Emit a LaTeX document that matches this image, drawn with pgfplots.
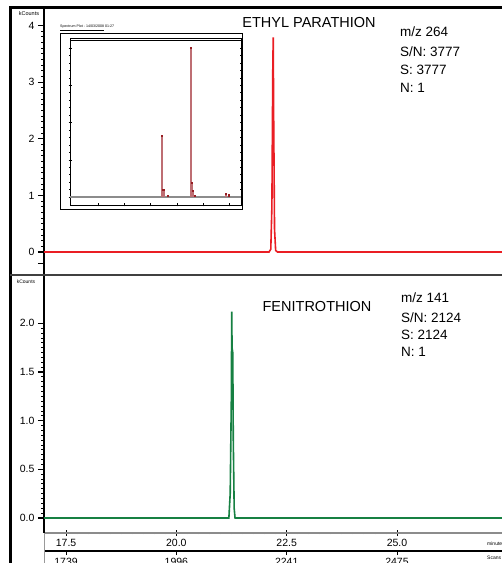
\documentclass[border=0pt]{standalone}
\usepackage{pgfplots}
\pgfplotsset{compat=1.18}
\usepackage{fontspec}
\setmainfont{Liberation Sans}
\definecolor{tracered}{RGB}{234,30,36}
\definecolor{tracegreen}{RGB}{22,128,66}
\definecolor{specred}{RGB}{150,30,35}
\definecolor{specbar}{RGB}{190,110,115}

\pgfplotsset{
  chrom/.style={
    scale only axis, width=458pt,
    xmin=17.0, xmax=27.38,
    axis y line=left,
    y axis line style={line width=2pt,-},
    tick align=outside,
    major tick length=6pt, minor tick length=2.5pt,
    every major y tick/.append style={black,line width=1.2pt},
    every minor y tick/.append style={black,line width=0.9pt},
    ticklabel style={font=\fontsize{10.5}{12}\selectfont},
    /pgf/number format/assume math mode=true,
  }
}

\begin{document}
\begin{tikzpicture}
\clip (0pt,0pt) rectangle (502pt,563pt);
\fill[white] (0pt,0pt) rectangle (502pt,563pt);

% upper trace: ethyl parathion
\begin{scope}[shift={(44pt,288pt)}]
\begin{axis}[chrom, at={(0pt,0pt)}, anchor=south west, height=267pt,
  ymin=-0.406, ymax=4.311, axis x line=none,
  ytick={0,1,2,3,4}, extra y ticks={-0.2}, extra y tick labels={},
  minor y tick num=9]
\addplot[tracered, line width=1.6pt] coordinates {
  (17.0,0) (22.10,0) (22.14,0.05) (22.165,0.8) (22.185,3.2) (22.195,3.79)
  (22.205,2.4) (22.225,0.4) (22.25,0.03) (22.29,0) (27.38,0)};
\end{axis}
\end{scope}

% lower trace: fenitrothion
\begin{scope}[shift={(44pt,30pt)}]
\begin{axis}[chrom, at={(0pt,0pt)}, anchor=south west, height=258pt,
  ymin=-0.154, ymax=2.497,
  axis x line=bottom,
  x axis line style={line width=1.5pt,-,black!45},
  xtick={17.5,20,22.5,25}, minor x tick num=9,
  ytick={0,0.5,1,1.5,2}, minor y tick num=9,
  every major x tick/.append style={black,line width=0.8pt},
  every minor x tick/.append style={black,line width=0.8pt},
  xticklabel style={/pgf/number format/.cd,fixed,fixed zerofill,precision=1},
  yticklabel style={/pgf/number format/.cd,fixed,fixed zerofill,precision=1}]
\addplot[tracegreen, line width=1.6pt] coordinates {
  (17.0,0) (21.19,0) (21.22,0.25) (21.245,1.2) (21.255,2.12) (21.262,1.75)
  (21.278,1.70) (21.29,0.8) (21.31,0.1) (21.33,0) (27.38,0)};
\end{axis}
\end{scope}

% scan number axis
\begin{scope}[shift={(44pt,12pt)}]
\begin{axis}[scale only axis, at={(0pt,0pt)}, anchor=south west, width=458pt, height=2pt,
  xmin=17.0, xmax=27.38, ymin=0, ymax=1,
  axis x line=bottom, axis y line=none,
  x axis line style={line width=2.5pt,-},
  xtick={17.5,20,22.5,25}, xticklabels={1739,1996,2241,2475},
  tick align=outside, major tick length=4pt,
  every major x tick/.append style={black,line width=0.8pt},
  ticklabel style={font=\fontsize{10.5}{12}\selectfont}]
\addplot[draw=none] coordinates {(20,0.5)};
\end{axis}
\end{scope}

% frame lines
\draw[line width=3pt] (10pt,0pt) -- (10pt,555pt) -- (502pt,555pt);
\draw[black!75, line width=1.5pt] (10pt,288pt) -- (502pt,288pt);
\draw[black!40, line width=0.8pt] (44pt,0pt) -- (44pt,30pt);

% inset spectrum
\node[anchor=west, inner sep=0pt, font=\fontsize{3.6}{4}\selectfont] at (60pt,535pt)
  {\underline{Spectrum Plot - 14/03/2008} 01:27};
\draw[fill=white, line width=0.8pt] (60pt,354pt) rectangle (242pt,530pt);
\begin{scope}[shift={(70pt,358pt)}]
\begin{axis}[scale only axis, at={(0pt,0pt)}, anchor=south west, width=171pt, height=167pt,
  xmin=143, xmax=314, ymin=-5.37, ymax=106.7,
  axis line style={line width=0.8pt},
  xtick={171,197,223,250,276,302}, minor x tick num=2,
  ytick={0,25,50,75,100}, minor y tick num=4,
  xticklabels={}, yticklabels={}, xtick pos=bottom,
  tick align=center, major tick length=3pt, minor tick length=1.5pt,
  every tick/.append style={black,line width=0.4pt}]
\addplot[black!45, line width=1.6pt] coordinates {(143,0) (314,0)};
\addplot[ycomb, specbar, line width=1.2pt,
  mark=square*, mark size=0.7pt, mark options={specred}] coordinates {
  (235,41) (236,4.7) (237,4.7) (241,0.7) (264,100) (265,9.4) (266,4)
  (268,0.7) (299,2) (302,1)};
\end{axis}
\end{scope}
\draw[line width=0.6pt] (70pt,523pt) -- (241pt,523pt);

% labels
\node[font=\fontsize{5.5}{6}\selectfont] at (29pt,549pt) {kCounts};
\node[font=\fontsize{5}{6}\selectfont] at (26pt,281pt) {kCounts};
\node[font=\fontsize{14.5}{16}\selectfont] at (309pt,540pt) {ETHYL PARATHION};
\begin{scope}[every node/.style={anchor=west, inner sep=0pt, font=\fontsize{13.5}{15}\selectfont}]
\node at (400pt,531pt) {m/z 264};
\node at (400pt,511pt) {S/N: 3777};
\node at (400pt,493pt) {S: 3777};
\node at (400pt,475pt) {N: 1};
\node[font=\fontsize{14.5}{16}\selectfont, anchor=center] at (317pt,256pt) {FENITROTHION};
\node at (401pt,265pt) {m/z 141};
\node at (401pt,245pt) {S/N: 2124};
\node at (401pt,228pt) {S: 2124};
\node at (401pt,211pt) {N: 1};
\end{scope}
\node[anchor=west, inner sep=0pt, font=\fontsize{5}{6}\selectfont] at (487pt,19pt) {minutes};
\node[anchor=west, inner sep=0pt, font=\fontsize{5}{6}\selectfont] at (487pt,5pt) {Scans};
\end{tikzpicture}
\end{document}
